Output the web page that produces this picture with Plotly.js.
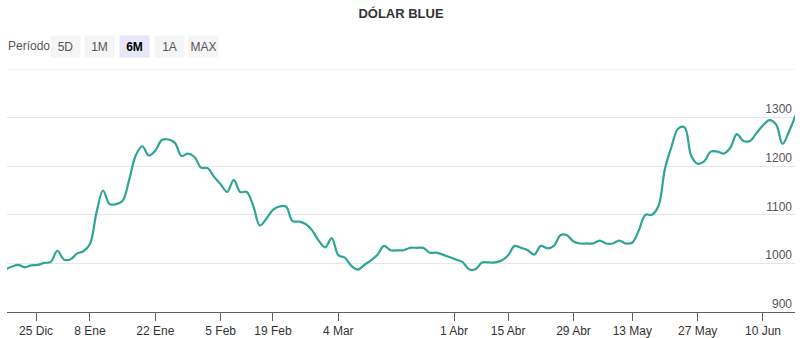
<!DOCTYPE html>
<html>
<head>
<meta charset="utf-8">
<script src="https://cdn.plot.ly/plotly-3.0.1.min.js"></script>
<style>
  html, body { margin: 0; padding: 0; background: #fff; }
  #chart { width: 800px; height: 338px; }
</style>
</head>
<body>
<div id="chart"></div>
<script>
// Trading days (ordinal axis: one slot per quoted day)
const dates = [
  '2023-12-18','2023-12-19','2023-12-20','2023-12-21','2023-12-22','2023-12-26','2023-12-27','2023-12-28','2023-12-29',
  '2024-01-02','2024-01-03','2024-01-04','2024-01-05','2024-01-08','2024-01-09','2024-01-10','2024-01-11','2024-01-12',
  '2024-01-15','2024-01-16','2024-01-17','2024-01-18','2024-01-19','2024-01-22','2024-01-23','2024-01-24','2024-01-25',
  '2024-01-26','2024-01-29','2024-01-30','2024-01-31',
  '2024-02-01','2024-02-02','2024-02-05','2024-02-06','2024-02-07','2024-02-08','2024-02-09','2024-02-14','2024-02-15',
  '2024-02-16','2024-02-19','2024-02-20','2024-02-21','2024-02-22','2024-02-23','2024-02-26','2024-02-27','2024-02-28','2024-02-29',
  '2024-03-01','2024-03-04','2024-03-05','2024-03-06','2024-03-07','2024-03-08','2024-03-11','2024-03-12','2024-03-13',
  '2024-03-14','2024-03-15','2024-03-18','2024-03-19','2024-03-20','2024-03-21','2024-03-22','2024-03-25','2024-03-26','2024-03-27',
  '2024-04-03','2024-04-04','2024-04-05','2024-04-08','2024-04-09','2024-04-10','2024-04-11','2024-04-12','2024-04-15',
  '2024-04-16','2024-04-17','2024-04-18','2024-04-19','2024-04-22','2024-04-23','2024-04-24','2024-04-25','2024-04-26',
  '2024-04-29','2024-04-30',
  '2024-05-02','2024-05-03','2024-05-06','2024-05-07','2024-05-08','2024-05-09','2024-05-10','2024-05-13','2024-05-14',
  '2024-05-15','2024-05-16','2024-05-17','2024-05-20','2024-05-21','2024-05-22','2024-05-23','2024-05-24','2024-05-27',
  '2024-05-28','2024-05-29','2024-05-30','2024-05-31',
  '2024-06-03','2024-06-04','2024-06-05','2024-06-06','2024-06-07','2024-06-10','2024-06-11','2024-06-12','2024-06-13',
  '2024-06-14','2024-06-18'
];

// Dólar blue quote (ARS)
const blue = [
  987, 993, 997, 992, 996, 997, 1001, 1003, 1026,
  1008, 1008, 1020, 1025, 1040, 1105, 1150, 1122, 1122,
  1129, 1172, 1222, 1241, 1222, 1232, 1254, 1255, 1248,
  1221, 1226, 1219, 1197,
  1196, 1178, 1163, 1147, 1172, 1147, 1147, 1118, 1078,
  1092, 1110, 1117, 1117, 1087, 1086, 1081, 1068, 1047, 1033,
  1052, 1017, 1012, 995, 987, 997, 1006, 1018, 1036,
  1027, 1027, 1027, 1032, 1032, 1032, 1022, 1022, 1018, 1013,
  1008, 1003, 988, 988, 1002, 1002, 1002, 1006, 1017,
  1036, 1032, 1027, 1018, 1036, 1031, 1036, 1058, 1058,
  1045, 1041,
  1041, 1041, 1047, 1041, 1041, 1047, 1041, 1043, 1068,
  1100, 1100, 1118, 1195, 1240, 1277, 1280, 1222, 1205,
  1210, 1230, 1230, 1226,
  1238, 1266, 1252, 1252, 1268, 1284, 1295, 1286, 1246,
  1272, 1305
];

// Axis labels
const tickDates  = ['2023-12-25','2024-01-08','2024-01-22','2024-02-05','2024-02-19','2024-03-04',
                    '2024-04-01','2024-04-15','2024-04-29','2024-05-13','2024-05-27','2024-06-10'];
const tickLabels = ['25 Dic','8 Ene','22 Ene','5 Feb','19 Feb','4 Mar',
                    '1 Abr','15 Abr','29 Abr','13 May','27 May','10 Jun'];
const yTicks     = [900, 1000, 1100, 1200, 1300];
const yTop       = 1400;

const periodLabel = 'Período';
const periodButtons = ['5D', '1M', '6M', '1A', 'MAX'];
const activeButton = '6M';

// Ordinal position of a calendar date (interpolated between quoted days)
function ordinal(d) {
  const t = Date.parse(d);
  for (let i = 0; i < dates.length - 1; i++) {
    const a = Date.parse(dates[i]), b = Date.parse(dates[i + 1]);
    if (t >= a && t <= b) return i + (t - a) / (b - a);
  }
  return dates.indexOf(d);
}
const xIdx = dates.map((d, i) => i);
const tickPos = tickDates.map(ordinal);

const FONT = 'Liberation Sans, Arial, Helvetica, sans-serif';
const W = 800, H = 338;
const M = { l: 7, r: 5, t: 68.7, b: 26.2 };
const PW = W - M.l - M.r, PH = H - M.t - M.b;
const px2x = px => (px - M.l) / PW;
const px2y = py => (H - M.b - py) / PH;

const annotations = [{
  text: periodLabel, xref: 'paper', yref: 'paper',
  x: px2x(6), y: px2y(46), xanchor: 'left', yanchor: 'middle',
  showarrow: false, font: { family: FONT, size: 12, color: '#555' }
}];
const btnCenters = [65, 99.5, 134, 169, 203.5];
periodButtons.forEach((b, i) => {
  const act = b === activeButton;
  annotations.push({
    text: act ? '<b>' + b + '</b>' : b,
    xref: 'paper', yref: 'paper',
    x: px2x(btnCenters[i]), y: px2y(46.5), xanchor: 'center', yanchor: 'middle',
    width: 29, height: 21, borderpad: 0,
    bgcolor: act ? '#e6e6f8' : '#f5f5f5',
    showarrow: false,
    font: { family: FONT, size: 12, color: act ? '#000' : '#555' }
  });
});

const trace = {
  type: 'scatter', mode: 'lines',
  x: xIdx, y: blue, customdata: dates,
  line: { color: '#2fa595', width: 2.2, shape: 'spline', smoothing: 1 },
  hovertemplate: '%{customdata}: %{y}<extra></extra>',
  name: 'Dólar blue'
};

const layout = {
  width: W, height: H,
  margin: M,
  paper_bgcolor: '#fff', plot_bgcolor: '#fff',
  showlegend: false,
  font: { family: FONT, size: 12, color: '#333' },
  title: {
    text: '<b>DÓLAR BLUE</b>',
    x: 0.5, xref: 'paper', xanchor: 'center',
    y: 1 - 13 / H, yref: 'container', yanchor: 'middle',
    font: { family: FONT, size: 13, color: '#333' }
  },
  xaxis: {
    type: 'linear',
    range: [0.3, 120.9],
    showgrid: false, zeroline: false,
    showline: true, linecolor: '#606060', linewidth: 1,
    ticks: 'outside', ticklen: 8, tickcolor: '#606060', tickwidth: 1,
    tickmode: 'array', tickvals: tickPos, ticktext: tickLabels,
    tickfont: { family: FONT, size: 12, color: '#333' },
    fixedrange: true
  },
  yaxis: {
    range: [900, yTop],
    side: 'right',
    tickmode: 'array', tickvals: yTicks,
    ticklabelposition: 'inside top',
    ticks: '',
    showgrid: true, gridcolor: '#e6e6e6', gridwidth: 1,
    zeroline: false, showline: false,
    tickfont: { family: FONT, size: 12, color: '#555' },
    fixedrange: true
  },
  shapes: [{
    type: 'line', xref: 'paper', yref: 'y',
    x0: 0, x1: 1, y0: yTop, y1: yTop,
    line: { color: '#e6e6e6', width: 1 }, layer: 'below'
  }],
  annotations: annotations
};

Plotly.newPlot('chart', [trace], layout, { displayModeBar: false });
</script>
</body>
</html>
